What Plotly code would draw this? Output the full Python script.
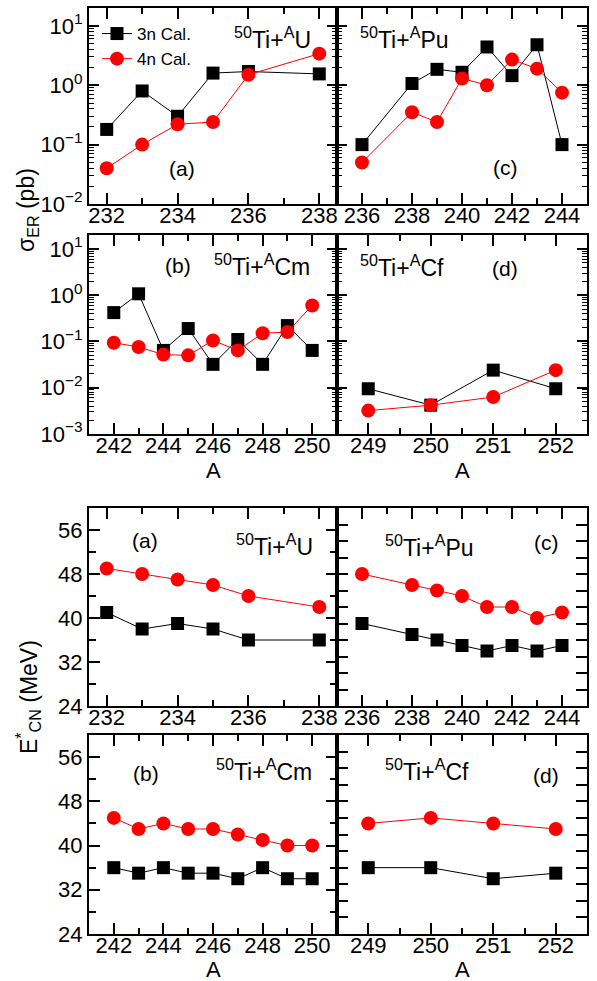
import math
import plotly.graph_objects as go

# ---------------- data ----------------
A_U = [232, 233, 234, 235, 236, 238]
sig3n_U = [0.18, 0.80, 0.30, 1.6, 1.7, 1.55]
sig4n_U = [0.04, 0.10, 0.22, 0.24, 1.5, 3.4]
E3n_U = [41, 38, 39, 38, 36, 36]
E4n_U = [49, 48, 47, 46, 44, 42]

A_Pu = [236, 238, 239, 240, 241, 242, 243, 244]
sig3n_Pu = [0.10, 1.07, 1.85, 1.65, 4.4, 1.45, 4.8, 0.10]
sig4n_Pu = [0.05, 0.35, 0.24, 1.3, 1.0, 2.7, 1.9, 0.75]
E3n_Pu = [39, 37, 36, 35, 34, 35, 34, 35]
E4n_Pu = [48, 46, 45, 44, 42, 42, 40, 41]

A_Cm = [242, 243, 244, 245, 246, 247, 248, 249, 250]
sig3n_Cm = [0.42, 1.07, 0.064, 0.19, 0.032, 0.11, 0.032, 0.22, 0.064]
sig4n_Cm = [0.094, 0.076, 0.052, 0.05, 0.105, 0.064, 0.15, 0.16, 0.6]
E3n_Cm = [36, 35, 36, 35, 35, 34, 36, 34, 34]
E4n_Cm = [45, 43, 44, 43, 43, 42, 41, 40, 40]

A_Cf = [249, 250, 251, 252]
sig3n_Cf = [0.0095, 0.0042, 0.024, 0.0095]
sig4n_Cf = [0.0032, 0.0042, 0.0063, 0.024]
E3n_Cf = [36, 36, 34, 35]
E4n_Cf = [44, 45, 44, 43]

threshold_pb = 1.0
series_names = ["3n Cal.", "4n Cal."]
reaction_labels = ["<sup>50</sup>Ti+<sup>A</sup>U", "<sup>50</sup>Ti+<sup>A</sup>Pu",
                   "<sup>50</sup>Ti+<sup>A</sup>Cm", "<sup>50</sup>Ti+<sup>A</sup>Cf"]
panel_labels = ["(a)", "(c)", "(b)", "(d)"]
log_tick_exps_top = [-2, -1, 0, 1]
log_tick_exps_bot = [-3, -2, -1, 0, 1]
E_ticks = [24, 32, 40, 48, 56]

# ---------------- layout helpers ----------------
W, H = 597, 981
FONT = "Liberation Sans, Arial, sans-serif"

def xd(a, b):
    return [a / W, b / W]

def yd(a, b):
    return [1 - b / H, 1 - a / H]

fig = go.Figure()

panels = [
    (A_U, sig3n_U, sig4n_U, xd(89, 337), yd(8, 204), [231.5, 238.5], 2, 232, "log_top", True),
    (A_Pu, sig3n_Pu, sig4n_Pu, xd(337, 587), yd(8, 204), [235, 245], 2, 236, "log_top", False),
    (A_Cm, sig3n_Cm, sig4n_Cm, xd(89, 337), yd(235, 434), [241, 251], 2, 242, "log_bot", True),
    (A_Cf, sig3n_Cf, sig4n_Cf, xd(337, 587), yd(235, 434), [248.5, 252.5], 1, 249, "log_bot", False),
    (A_U, E3n_U, E4n_U, xd(89, 337), yd(508, 706), [231.5, 238.5], 2, 232, "lin", True),
    (A_Pu, E3n_Pu, E4n_Pu, xd(337, 587), yd(508, 706), [235, 245], 2, 236, "lin", False),
    (A_Cm, E3n_Cm, E4n_Cm, xd(89, 337), yd(735, 934), [241, 251], 2, 242, "lin", True),
    (A_Cf, E3n_Cf, E4n_Cf, xd(337, 587), yd(735, 934), [248.5, 252.5], 1, 249, "lin", False),
]

layout = {}
annotations = []
shapes = []

label_pos = [  # (reaction x,y), (panel label x,y) in px
    ((272, 38), (182, 169)),
    ((404, 38), (505, 168)),
    ((262, 265), (178, 266)),
    ((402, 266), (505, 268)),
    ((274, 545), (145, 540)),
    ((429, 546), (546, 542)),
    ((264, 770), (146, 773)),
    ((427, 770), (546, 775)),
]

for i, (A, s3, s4, xdom, ydom, xr, xdt, x0, kind, left) in enumerate(panels):
    n = i + 1
    xa = "x" if n == 1 else f"x{n}"
    ya = "y" if n == 1 else f"y{n}"
    show = (n == 1)
    fig.add_trace(go.Scatter(
        x=A, y=s3, mode="lines+markers", name=series_names[0], showlegend=show,
        line=dict(color="black", width=1),
        marker=dict(symbol="square", size=13, color="black"),
        xaxis=xa, yaxis=ya))
    fig.add_trace(go.Scatter(
        x=A, y=s4, mode="lines+markers", name=series_names[1], showlegend=show,
        line=dict(color="#ff0000", width=1),
        marker=dict(symbol="circle", size=14, color="#ff0000"),
        xaxis=xa, yaxis=ya))

    xkey = "xaxis" if n == 1 else f"xaxis{n}"
    ykey = "yaxis" if n == 1 else f"yaxis{n}"
    layout[xkey] = dict(
        domain=xdom, anchor=ya, range=xr, tick0=x0, dtick=xdt, automargin=False,
        ticks="inside", ticklen=11, tickwidth=1.5, tickcolor="black",
        ticklabelstandoff=-9,
        showline=True, linecolor="black", linewidth=2, mirror="ticks",
        showgrid=False, zeroline=False,
        tickfont=dict(family=FONT, size=22, color="black"),
        minor=dict(dtick=xdt / 2, tick0=x0, ticks="inside", ticklen=6,
                   tickwidth=1.5, tickcolor="black", showgrid=False),
    )
    if kind.startswith("log"):
        exps = log_tick_exps_top if kind == "log_top" else log_tick_exps_bot
        lo = exps[0]
        minor_vals = [m * 10 ** e for e in exps for m in range(2, 10)]
        layout[ykey] = dict(
            domain=ydom, anchor=xa, type="log", range=[lo, 1.3], automargin=False,
            tickvals=[10 ** e for e in exps],
            ticktext=[f"10<sup>{e if e >= 0 else '−' + str(-e)}</sup>" for e in exps],
            showticklabels=left,
            ticks="inside", ticklen=10, tickwidth=1.5, tickcolor="black",
            showline=True, linecolor="black", linewidth=2, mirror="ticks",
            showgrid=False, zeroline=False,
            tickfont=dict(family=FONT, size=22, color="black"),
            minor=dict(tickvals=minor_vals, ticks="inside", ticklen=5,
                       tickwidth=1.2, tickcolor="black", showgrid=False),
        )
        shapes.append(dict(type="line", xref=f"{xa} domain", yref=ya,
                           x0=0, x1=1, y0=math.log10(threshold_pb), y1=math.log10(threshold_pb),
                           line=dict(color="black", width=1.5, dash="dash"), layer="below"))
    else:
        if left:
            ydict = dict(tickvals=E_ticks, minor=dict(dtick=4, tick0=24, ticks="inside", ticklen=7,
                                                      tickwidth=1.5, tickcolor="black", showgrid=False))
        else:
            ydict = dict(tick0=24, dtick=3)
        layout[ykey] = dict(
            domain=ydom, anchor=xa, range=[24, 60], automargin=False,
            showticklabels=left,
            ticks="inside", ticklen=11, tickwidth=1.5, tickcolor="black",
            showline=True, linecolor="black", linewidth=2, mirror="ticks",
            showgrid=False, zeroline=False,
            tickfont=dict(family=FONT, size=22, color="black"),
            **ydict,
        )

    (rx, ry), (px, py) = label_pos[i]
    annotations.append(dict(text=reaction_labels[i % 4],
                            x=rx / W, y=1 - ry / H, xref="paper", yref="paper",
                            showarrow=False, xanchor="center", yanchor="middle",
                            font=dict(family=FONT, size=23, color="black")))
    annotations.append(dict(text=panel_labels[i % 4], x=px / W, y=1 - py / H,
                            xref="paper", yref="paper", showarrow=False,
                            xanchor="center", yanchor="middle",
                            font=dict(family=FONT, size=21, color="black")))

# axis titles
for (tx, ty) in [(213, 470), (462, 470), (213, 969), (462, 969)]:
    annotations.append(dict(text="A", x=tx / W, y=1 - ty / H, xref="paper", yref="paper",
                            showarrow=False, xanchor="center", yanchor="middle",
                            font=dict(family=FONT, size=22, color="black")))
annotations.append(dict(text="σ<sub>ER</sub> (pb)", x=28 / W, y=1 - 210 / H,
                        xref="paper", yref="paper", showarrow=False, textangle=-90,
                        xanchor="center", yanchor="middle",
                        font=dict(family=FONT, size=23, color="black")))
annotations.append(dict(text="E<sup>*</sup><sub>CN</sub> (MeV)", x=28 / W, y=1 - 697 / H,
                        xref="paper", yref="paper", showarrow=False, textangle=-90,
                        xanchor="center", yanchor="middle",
                        font=dict(family=FONT, size=23, color="black")))

fig.update_layout(
    template="none",
    width=W, height=H,
    margin=dict(l=0, r=0, t=0, b=0, pad=0, autoexpand=False),
    paper_bgcolor="white", plot_bgcolor="white",
    font=dict(family=FONT, color="black"),
    showlegend=True,
    legend=dict(x=97 / W, y=1 - 16 / H, xanchor="left", yanchor="top",
                bgcolor="rgba(0,0,0,0)", borderwidth=0,
                font=dict(family=FONT, size=17, color="black"),
                tracegroupgap=0, itemsizing="trace"),
    annotations=annotations,
    shapes=shapes,
    **layout,
)

fig.write_html("out.html", config={"displayModeBar": False},
               post_script="document.body.style.margin='0';document.body.style.padding='0';")
